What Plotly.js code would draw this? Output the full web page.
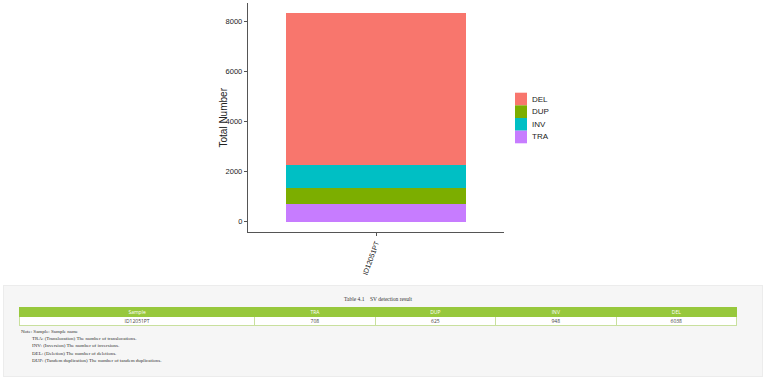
<!DOCTYPE html>
<html>
<head>
<meta charset="utf-8">
<script src="https://cdn.plot.ly/plotly-3.0.1.min.js"></script>
<style>
  html, body { margin: 0; padding: 0; background: #ffffff; width: 768px; height: 380px; overflow: hidden; }
  #chart { position: absolute; left: 0; top: 0; width: 768px; height: 285px; }
  #panel { position: absolute; left: 3px; top: 285px; width: 760px; height: 92px; background: #f6f6f6; border: 1px solid #ececec; box-sizing: border-box; }
  #ttitle { position: absolute; left: 15px; width: 718px; top: 10px; text-align: center; font-family: "Liberation Serif", serif; font-size: 5.5px; color: #333; white-space: pre; }
  #tbl { position: absolute; left: 15px; top: 21px; width: 718px; border-collapse: collapse; font-family: "Open Sans", sans-serif; font-size: 5px; }
  #tbl th { background: #97c83c; color: #ffffff; font-weight: normal; height: 8px; padding: 0; border: 1px solid #97c83c; line-height: 7px; }
  #tbl td { background: #ffffff; color: #444; height: 8px; padding: 0; text-align: center; border: 1px solid #c9e09e; line-height: 7px; }
  #notes { position: absolute; left: 17px; top: 42px; font-family: "Liberation Serif", serif; font-size: 5px; color: #333; line-height: 7.2px; }
  #notes div.ind { padding-left: 11px; }
</style>
</head>
<body>
<div id="chart"></div>
<div id="panel">
  <div id="ttitle"></div>
  <table id="tbl"></table>
  <div id="notes"></div>
</div>
<script>
// ---- data ----
var sampleNames = ["ID12051PT"];
var svTypes = ["TRA", "DUP", "INV", "DEL"];           // stacking order, bottom to top
var legendOrder = ["DEL", "DUP", "INV", "TRA"];       // legend order, top to bottom
var traCounts = [708];
var dupCounts = [625];
var invCounts = [948];
var delCounts = [6038];
var typeColors = { DEL: "#F8766D", DUP: "#7CAE00", INV: "#00BFC4", TRA: "#C77CFF" };
var yTickVals = [0, 2000, 4000, 6000, 8000];
var tableTitle = "Table 4.1    SV detection result";
var tableHeaders = ["Sample", "TRA", "DUP", "INV", "DEL"];
var noteLines = [
  "Note: Sample: Sample name",
  "TRA: (Translocation) The number of translocations.",
  "INV: (Inversion) The number of inversions.",
  "DEL: (Deletion) The number of deletions.",
  "DUP: (Tandem duplication) The number of tandem duplications."
];

var countsByType = { TRA: traCounts, DUP: dupCounts, INV: invCounts, DEL: delCounts };

var traces = svTypes.map(function (t) {
  return {
    type: "bar",
    name: t,
    x: sampleNames,
    y: countsByType[t],
    width: 0.7,
    marker: { color: typeColors[t], line: { width: 0 } },
    hoverinfo: "none",
    showlegend: false
  };
});

var maxTotal = Math.max.apply(null, sampleNames.map(function (s, i) {
  return svTypes.reduce(function (acc, t) { return acc + countsByType[t][i]; }, 0);
}));
var pad = maxTotal * 0.05;

// ggplot-style legend: contiguous colour keys with labels
var plotL = 248, plotW = 256, plotT = 3, plotH = 229;
function px2x(p) { return (p - plotL) / plotW; }
function py2y(p) { return 1 - (p - plotT) / plotH; }
var keyTop = 92.7, keyH = 12.65, keyL = 515, keyR = 527;
var shapes = [], annotations = [];
legendOrder.forEach(function (t, i) {
  var y0 = keyTop + i * keyH;
  shapes.push({
    type: "rect", xref: "paper", yref: "paper",
    x0: px2x(keyL), x1: px2x(keyR), y0: py2y(y0 + keyH), y1: py2y(y0),
    fillcolor: typeColors[t], line: { width: 0 }, layer: "above"
  });
  annotations.push({
    xref: "paper", yref: "paper", x: px2x(keyR + 3), y: py2y(y0 + keyH / 2),
    xanchor: "left", yanchor: "middle", showarrow: false, text: t,
    font: { family: "Liberation Sans, Arial, sans-serif", size: 8, color: "#222" }
  });
});
annotations.push({
  xref: "paper", yref: "paper", x: px2x(223), y: 0.5,
  xanchor: "center", yanchor: "middle", showarrow: false, textangle: -90,
  text: "Total Number",
  font: { family: "Liberation Sans, Arial, sans-serif", size: 10, color: "#222" }
});

var layout = {
  width: 768, height: 285,
  margin: { l: 248, r: 264, t: 3, b: 53 },
  paper_bgcolor: "#ffffff",
  plot_bgcolor: "#ffffff",
  barmode: "stack",
  bargap: 0,
  showlegend: false,
  shapes: shapes,
  annotations: annotations,
  xaxis: {
    type: "category",
    range: [-0.5, 0.5],
    showline: true, linecolor: "#555", linewidth: 1.2,
    ticks: "outside", ticklen: 3, tickcolor: "#555",
    tickangle: -70,
    tickfont: { family: "Liberation Sans, Arial, sans-serif", size: 7, color: "#222" },
    showgrid: false, zeroline: false, fixedrange: true
  },
  yaxis: {
    range: [-pad, maxTotal + pad],
    tickvals: yTickVals,
    showline: true, linecolor: "#555", linewidth: 1.2,
    ticks: "outside", ticklen: 3, tickcolor: "#555",
    tickfont: { family: "Liberation Sans, Arial, sans-serif", size: 7.5, color: "#222" },
    showgrid: false, zeroline: false, fixedrange: true
  }
};

Plotly.newPlot("chart", traces, layout, { displayModeBar: false, staticPlot: true });

// ---- table ----
document.getElementById("ttitle").textContent = tableTitle;
var tbl = document.getElementById("tbl");
var colWidths = ["32.8%", "16.8%", "16.8%", "16.8%", "16.8%"];
var hr = document.createElement("tr");
tableHeaders.forEach(function (h, i) {
  var th = document.createElement("th");
  th.textContent = h;
  th.style.width = colWidths[i];
  hr.appendChild(th);
});
tbl.appendChild(hr);
sampleNames.forEach(function (s, i) {
  var tr = document.createElement("tr");
  var vals = [s, traCounts[i], dupCounts[i], invCounts[i], delCounts[i]];
  vals.forEach(function (v) {
    var td = document.createElement("td");
    td.textContent = v;
    tr.appendChild(td);
  });
  tbl.appendChild(tr);
});
var notes = document.getElementById("notes");
noteLines.forEach(function (line, i) {
  var d = document.createElement("div");
  d.textContent = line;
  if (i > 0) d.className = "ind";
  notes.appendChild(d);
});
</script>
</body>
</html>
